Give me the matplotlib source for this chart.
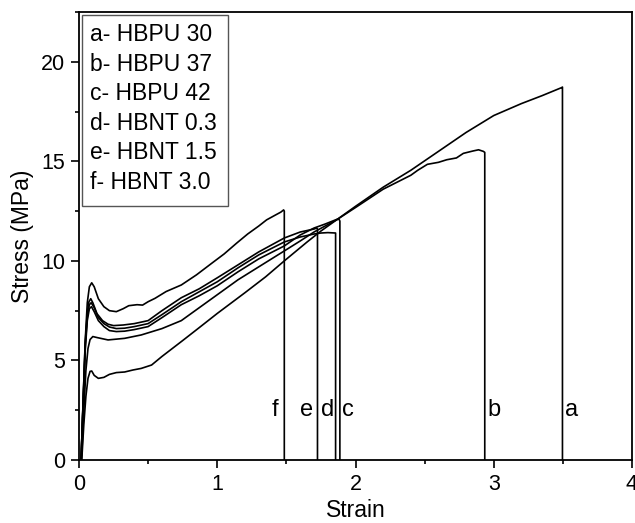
import matplotlib.pyplot as plt
from matplotlib.patches import Rectangle
from matplotlib.ticker import MultipleLocator

plt.rcParams['font.family'] = ['Liberation Sans', 'DejaVu Sans']

# stress-strain curves (strain, stress in MPa)
strain_a = [0.02, 0.035, 0.05, 0.065, 0.08, 0.092, 0.11, 0.14, 0.18, 0.22, 0.27, 0.33, 0.39, 0.45,
            0.525, 0.6, 0.75, 0.87, 1.0, 1.2, 1.35, 1.485, 1.65, 1.75, 1.863, 2.0, 2.2, 2.4, 2.6,
            2.8, 3.0, 3.2, 3.35, 3.49, 3.497, 3.497]
stress_a = [0.0, 1.8, 3.2, 4.1, 4.45, 4.47, 4.25, 4.1, 4.15, 4.3, 4.39, 4.42, 4.52, 4.6,
            4.77, 5.2, 6.0, 6.65, 7.36, 8.4, 9.2, 10.0, 10.95, 11.5, 12.06, 12.74, 13.7, 14.55, 15.5,
            16.45, 17.3, 17.9, 18.3, 18.7, 18.73, 0.0]

strain_b = [0.018, 0.035, 0.05, 0.065, 0.08, 0.10, 0.13, 0.21, 0.33, 0.45, 0.6, 0.74, 0.87, 1.0,
            1.15, 1.3, 1.485, 1.6, 1.7, 1.78, 1.863, 2.0, 2.2, 2.3, 2.4, 2.45, 2.52, 2.6, 2.66,
            2.73, 2.78, 2.85, 2.89, 2.925, 2.935, 2.935]
stress_b = [0.0, 2.5, 4.5, 5.6, 6.05, 6.2, 6.15, 6.03, 6.11, 6.28, 6.6, 7.0, 7.65, 8.3,
            9.05, 9.7, 10.5, 11.0, 11.45, 11.75, 12.06, 12.68, 13.6, 13.95, 14.3, 14.55, 14.85, 14.95, 15.08,
            15.17, 15.4, 15.52, 15.58, 15.5, 15.45, 0.0]

strain_c = [0.015, 0.03, 0.045, 0.06, 0.075, 0.09, 0.11, 0.14, 0.18, 0.22, 0.27, 0.33, 0.4, 0.5,
            0.6, 0.74, 0.87, 1.0, 1.15, 1.3, 1.485, 1.6, 1.7, 1.78, 1.863, 1.88, 1.887, 1.887]
stress_c = [0.0, 2.8, 5.5, 7.0, 7.6, 7.7, 7.45, 7.0, 6.7, 6.5, 6.45, 6.47, 6.55, 6.7,
            7.15, 7.8, 8.25, 8.75, 9.45, 10.1, 10.75, 11.3, 11.65, 11.85, 12.08, 12.1, 12.0, 0.0]

strain_d = [0.015, 0.03, 0.045, 0.06, 0.075, 0.088, 0.11, 0.14, 0.18, 0.22, 0.27, 0.33, 0.4, 0.5,
            0.6, 0.74, 0.87, 1.0, 1.15, 1.3, 1.485, 1.6, 1.7, 1.75, 1.8, 1.856, 1.856]
stress_d = [0.0, 2.9, 5.7, 7.2, 7.8, 7.9, 7.65, 7.15, 6.85, 6.68, 6.6, 6.62, 6.7, 6.85,
            7.3, 7.95, 8.45, 8.95, 9.65, 10.3, 10.95, 11.2, 11.35, 11.4, 11.42, 11.4, 0.0]

strain_e = [0.015, 0.03, 0.045, 0.06, 0.072, 0.085, 0.1, 0.13, 0.17, 0.21, 0.25, 0.32, 0.4, 0.5,
            0.6, 0.74, 0.87, 1.0, 1.15, 1.3, 1.485, 1.6, 1.7, 1.72, 1.725, 1.725]
stress_e = [0.0, 3.0, 5.9, 7.4, 7.95, 8.1, 7.9, 7.35, 7.0, 6.82, 6.75, 6.78, 6.85, 7.0,
            7.5, 8.15, 8.6, 9.15, 9.8, 10.45, 11.15, 11.45, 11.6, 11.65, 11.6, 0.0]

strain_f = [0.015, 0.03, 0.045, 0.06, 0.075, 0.092, 0.11, 0.14, 0.18, 0.22, 0.27, 0.32, 0.36, 0.42,
            0.46, 0.5, 0.55, 0.63, 0.74, 0.85, 0.96, 1.05, 1.14, 1.22, 1.3, 1.357, 1.42, 1.46,
            1.48, 1.485, 1.485]
stress_f = [0.0, 3.0, 6.0, 7.9, 8.7, 8.9, 8.7, 8.1, 7.7, 7.5, 7.45, 7.6, 7.75, 7.8,
            7.78, 7.95, 8.12, 8.46, 8.79, 9.3, 9.88, 10.35, 10.89, 11.35, 11.75, 12.06, 12.3, 12.45,
            12.56, 12.5, 0.0]

curve_tags = ['a', 'b', 'c', 'd', 'e', 'f']
legend_lines = ['a- HBPU 30', 'b- HBPU 37', 'c- HBPU 42', 'd- HBNT 0.3', 'e- HBNT 1.5', 'f- HBNT 3.0']
tag_x = [3.56, 3.0, 1.947, 1.798, 1.646, 1.417]
tag_y = 2.5

fig = plt.figure(figsize=(6.35, 5.23), dpi=100)
ax = fig.add_axes([79 / 635, 1 - 460 / 523, 553 / 635, 448 / 523])

curves = [(strain_a, stress_a), (strain_b, stress_b), (strain_c, stress_c),
          (strain_d, stress_d), (strain_e, stress_e), (strain_f, stress_f)]
for xs, ys in curves:
    ax.plot(xs, ys, color='black', lw=1.2)

for t, x in zip(curve_tags, tag_x):
    ax.text(x, tag_y, t, fontsize=17, ha='center', va='center')

ax.set_xlim(0, 4)
ax.set_ylim(0, 22.5)
ax.xaxis.set_major_locator(MultipleLocator(1))
ax.xaxis.set_minor_locator(MultipleLocator(0.5))
ax.yaxis.set_major_locator(MultipleLocator(5))
ax.yaxis.set_minor_locator(MultipleLocator(2.5))
ax.tick_params(which='major', direction='out', length=6, width=1.2, labelsize=15.5, pad=4)
ax.tick_params(which='minor', direction='out', length=3, width=1.2)
for sp in ax.spines.values():
    sp.set_linewidth(1.3)

ax.set_xlabel('Strain', fontsize=16.5, labelpad=3)
ax.set_ylabel('Stress (MPa)', fontsize=16.5, labelpad=5)

# legend box (text only, no handles)
ax.add_patch(Rectangle((0.0054, 0.567), 0.264, 0.426, transform=ax.transAxes,
                       fill=False, edgecolor='#555555', lw=1.0))
ax.text(0.0199, 0.975, '\n'.join(legend_lines), transform=ax.transAxes,
        fontsize=16.5, va='top', ha='left', linespacing=1.36)

fig.savefig('out.png', dpi=100)
